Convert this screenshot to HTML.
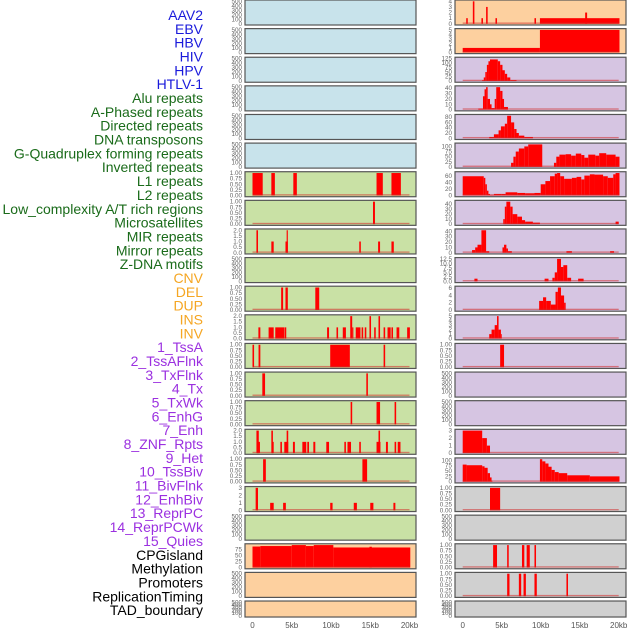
<!DOCTYPE html>
<html><head><meta charset="utf-8"><style>
html,body{margin:0;padding:0;background:#fff;}
svg{display:block;font-family:"Liberation Sans",sans-serif;}
</style></head><body>
<svg id="chart" width="630" height="630" viewBox="0 0 630 630" xmlns="http://www.w3.org/2000/svg"></svg>
<script>
const labels=["AAV2","EBV","HBV","HIV","HPV","HTLV-1","Alu repeats","A-Phased repeats","Directed repeats","DNA transposons","G-Quadruplex forming repeats","Inverted repeats","L1 repeats","L2 repeats","Low_complexity A/T rich regions","Microsatellites","MIR repeats","Mirror repeats","Z-DNA motifs","CNV","DEL","DUP","INS","INV","1_TssA","2_TssAFlnk","3_TxFlnk","4_Tx","5_TxWk","6_EnhG","7_Enh","8_ZNF_Rpts","9_Het","10_TssBiv","11_BivFlnk","12_EnhBiv","13_ReprPC","14_ReprPCWk","15_Quies","CPGisland","Methylation","Promoters","ReplicationTiming","TAD_boundary"];
const labelGroups=[6,13,5,15,5];
const groupColors=["#1a1adb","#1a6b1a","#f5a623","#9b30e0","#000"];
const xTicks=[0,5,10,15,20];
const xTickLabels=["0","5kb","10kb","15kb","20kb"];
const leftBg=["b","b","b","b","b","b","g","g","g","g","g","g","g","g","g","g","g","g","g","o","o","o"];
const rightBg=["o","o","p","p","p","p","p","p","p","p","p","p","p","p","p","p","p","x","x","x","x","x"];
const E=[0,100,200,300,400,500];
const T1=[0,0.25,0.5,0.75,1];
const T2=[0,0.5,1,1.5,2];
const leftTicks=[E,E,E,E,E,E,T1,T1,T2,E,T1,T2,T1,T1,T1,T2,T1,[0,1,2,3],E,[0,25,50,75],E,E];
const leftMax=[500,500,500,500,500,500,1,1,2,500,1,2,1,1,1,2,1,3,500,94,500,500];
const leftBars=[[],[],[],[],[],[],
[[0,1.3,1],[2.4,2.85,1],[5.2,5.65,1],[15.8,16.6,1],[17.7,18.9,1]],
[[15.35,15.6,1]],
[[0.5,0.7,2],[2.4,2.7,1],[4.2,4.5,1],[4.35,4.5,2],[13.6,13.8,1],[16.0,16.25,1],[17.7,18.0,1]],
[],
[[3.65,3.9,1],[4.2,4.5,1],[8.0,8.5,1]],
[[0.75,1.0,1],[2.05,2.7,1],[2.9,4.05,1],[4.1,4.3,1],[9.5,9.75,1],[10.7,10.9,1],[11.5,11.9,1],[12.45,12.7,2],[12.7,12.85,1],[13.15,13.75,1],[13.9,14.1,1],[14.3,14.5,1],[14.9,15.1,2],[15.5,15.7,1],[16.05,16.25,2],[16.7,16.9,1],[17.2,17.6,1],[17.7,17.9,1],[18.35,18.7,1],[19.7,20.05,1]],
[[0,0.2,1],[0.77,1.0,1],[9.9,12.4,1],[16.7,16.9,1]],
[[1.25,1.6,1],[14.5,14.7,1]],
[[12.5,12.7,1],[15.8,16.25,1],[18.1,18.3,1]],
[[0.5,0.8,2],[0.6,0.95,1],[2.4,2.6,2],[2.5,2.7,1],[3.55,3.75,1],[4.05,4.55,1],[4.35,4.55,2],[5.15,5.4,1],[6.35,6.85,1],[6.98,7.2,1],[7.75,8.0,1],[9.4,9.75,1],[11.7,11.9,1],[12.1,12.55,1],[13.6,13.8,1],[15.8,16.3,1],[16.05,16.25,2],[17.0,17.25,1],[18.1,18.3,1],[18.5,18.85,1]],
[[1.35,1.7,1],[14.0,14.6,1]],
[[0.4,0.7,3],[2.25,2.7,1],[3.9,4.25,1],[9.9,10.2,1],[12.9,13.3,1],[15.0,15.4,1],[17.95,18.2,1]],
[],
[[0,1.0,88],[1.0,5.0,90],[5.0,6.8,94],[6.8,7.8,90],[7.8,10.3,94],[10.3,20.1,84],[14.9,15.2,87]],
[],[]];
const rightTicks=[[0,1,2,3,4],[0,1,2,3,4,5],[0,25,50,75,100,125],[0,10,20,30,40],[0,20,40,60,80],[0,25,50,75,100],[0,20,40,60],[0,10,20,30,40],[0,10,20,30,40],[0,2.5,5,7.5,10,12.5],[0,2,4,6],[0,1,2,3,4,5],T1,E,E,[0,1,2,3],[0,25,50,75,100],T1,E,T1,T1,E];
const rightMax=[4,5,125,42,85,110,70,45,42,12.5,6.2,5,1,500,500,3,105,1,500,1,1,500];
const rightBars=[
[[0.45,0.65,1],[1.3,1.5,4],[2.4,2.6,1],[3.0,3.2,3],[4.2,4.4,1],[9.2,9.4,1],[9.9,20.1,1],[15.7,15.95,2]],
[[0,9.9,1],[9.9,20.1,5]],
[[2.5,2.7,5],[2.7,2.9,20],[2.9,3.1,50],[3.1,3.3,90],[3.3,3.5,110],[3.5,4.5,120],[4.5,4.8,110],[4.8,5.1,90],[5.1,5.4,60],[5.4,5.7,40],[5.7,6.1,20],[6.1,6.9,5]],
[[2.0,2.6,2],[2.6,2.8,25],[2.8,3.0,38],[3.0,3.2,42],[3.2,3.5,20],[3.5,3.7,10],[3.7,4.1,3],[4.1,4.3,20],[4.3,4.8,42],[4.8,5.1,35],[5.1,5.3,20],[5.3,5.8,5]],
[[3.4,4.0,5],[4.0,4.6,15],[4.6,4.9,30],[4.9,5.4,45],[5.4,5.7,55],[5.7,6.2,85],[6.2,6.6,60],[6.6,6.9,35],[6.9,7.2,20],[7.2,7.9,10],[7.9,9.0,5]],
[[6.2,6.5,20],[6.5,6.8,50],[6.8,7.2,75],[7.2,7.9,90],[7.9,8.4,100],[8.4,10.2,110],[11.7,12.0,20],[12.0,12.4,50],[12.4,13.2,60],[13.2,13.9,62],[13.9,14.5,55],[14.5,15.2,65],[15.2,15.6,58],[15.6,16.1,45],[16.1,17.0,60],[17.0,17.5,55],[17.5,18.4,67],[18.4,19.6,60],[19.6,20.1,50]],
[[0,2.7,60],[2.7,2.9,55],[2.9,3.1,35],[3.1,3.3,15],[3.3,3.5,5],[3.5,4.0,2],[4.0,5.0,5],[5.0,5.5,5],[5.5,7.0,10],[7.0,8.0,8],[8.0,9.2,7],[9.2,10.0,8],[10.0,10.6,35],[10.6,11.2,45],[11.2,11.8,60],[11.8,12.1,68],[12.1,12.5,70],[12.5,13.0,60],[13.0,14.0,52],[14.0,14.6,55],[14.6,15.2,58],[15.2,15.6,50],[15.6,16.3,62],[16.3,16.9,66],[16.9,18.0,65],[18.0,18.6,60],[18.6,19.3,55],[19.3,19.6,66],[19.6,20.1,70]],
[[5.2,5.4,10],[5.4,5.6,35],[5.6,6.1,45],[6.1,6.4,35],[6.4,7.0,20],[7.0,7.6,15],[7.6,8.0,8],[8.0,9.0,5],[9.0,9.9,3],[19.6,20.0,5]],
[[1.2,1.6,5],[1.6,1.9,10],[1.9,2.4,15],[2.4,3.0,42],[3.0,3.4,3],[5.1,5.3,10],[5.3,5.6,15],[5.6,5.8,8],[5.8,6.3,3],[13.3,14.0,3],[18.9,19.4,3]],
[[1.5,1.9,1.5],[10.5,11.0,1.5],[11.5,11.8,2],[11.8,12.1,5],[12.1,12.6,12.5],[12.6,12.9,8],[12.9,13.4,9],[13.4,13.9,2],[14.8,15.5,1.5]],
[[9.8,10.3,2.5],[10.3,10.7,3.5],[10.7,11.3,2.5],[11.3,11.9,1.5],[11.9,12.2,5],[12.2,12.6,6.2],[12.6,13.0,4],[13.0,13.2,2]],
[[3.4,3.7,1],[3.7,4.1,2],[4.1,4.4,3],[4.4,4.6,5],[4.6,4.9,2],[4.9,5.0,1]],
[[4.8,5.3,1]],
[],[],
[[0,2.5,3],[2.5,3.1,2],[3.1,3.5,1]],
[[0,0.5,80],[0.5,2.5,77],[2.5,2.8,72],[2.8,3.2,65],[3.2,3.5,40],[3.5,3.7,20],[3.7,3.8,5],[9.9,10.2,105],[10.2,10.6,95],[10.6,11.0,85],[11.0,11.4,70],[11.4,11.8,55],[11.8,12.3,45],[12.3,13.4,40],[13.4,16.3,30],[16.3,20.1,25]],
[[3.5,4.8,1]],
[],
[[3.9,4.4,1],[5.7,5.9,1],[7.6,7.9,1],[8.2,8.6,1],[9.2,9.4,1]],
[[5.7,6.0,1],[7.2,7.5,1],[7.8,8.1,1],[9.2,9.5,1],[13.3,13.5,1]],
[]];

const NS="http://www.w3.org/2000/svg";
const svg=document.getElementById('chart');
const bgColors={b:"#c8e3eb",g:"#c9e1a5",o:"#fdd09f",p:"#d6c5e2",x:"#d0d0d0"};
function mk(tag,attrs,parent){const e=document.createElementNS(NS,tag);for(const k in attrs)e.setAttribute(k,attrs[k]);(parent||svg).appendChild(e);return e;}
function decs(arr){let d=0;arr.forEach(v=>{const s=String(v);const i=s.indexOf('.');if(i>=0)d=Math.max(d,s.length-i-1);});return d;}

let gi=0,cnt=0;
labels.forEach((t,i)=>{
  while(cnt>=labelGroups[gi]){cnt-=labelGroups[gi];gi++;}
  const el=mk('text',{x:203,y:15+i*13.84+5,'text-anchor':'end','font-size':14,fill:groupColors[gi]});
  el.textContent=t;
  
  
  cnt++;
});

const cols=[{x:245,w:171,x0:252.5,x1:409.5,bg:leftBg,ticks:leftTicks,max:leftMax,bars:leftBars,name:'left'},
            {x:455,w:171,x0:462.7,x1:618.7,bg:rightBg,ticks:rightTicks,max:rightMax,bars:rightBars,name:'right'}];
cols.forEach(c=>{
  const xs=kb=>c.x0+(c.x1-c.x0)*kb/20;
  for(let r=0;r<22;r++){
    const top=r*28.62, h=(r===21?16:25);
    const g=mk('g',{});
    
    
    mk('rect',{x:c.x,y:top,width:c.w,height:h,fill:bgColors[c.bg[r]],stroke:'#555','stroke-width':1.2},g);
    const yb=top+h-1.2, yt=top+1.3, ymax=c.max[r];
    const ys=v=>yb-(yb-yt)*v/ymax;
    const d=decs(c.ticks[r]);
    c.ticks[r].forEach(t=>{
      const tx=mk('text',{x:c.x-3,y:ys(t)+2,'text-anchor':'end','font-size':6.3,fill:'#666'},g);
      tx.textContent=t.toFixed(d);
      
      
    });
    const bars=c.bars[r];
    if(bars.length){
      bars.forEach(b=>{
        const y=ys(b[2]);
        const br=mk('rect',{x:xs(b[0]),y:y,width:Math.max(0.8,xs(b[1])-xs(b[0])),height:yb-y,fill:'#ff0000'},g);
        
        
      });
      const bl=mk('rect',{x:xs(0),y:yb-1.3,width:xs(20)-xs(0),height:1.3,fill:'rgba(210,40,40,0.55)'},g);
      
      
    }
  }
  xTicks.forEach((t,i)=>{
    const tx=mk('text',{x:xs(t),y:628,'text-anchor':'middle','font-size':8,fill:'#555'});
    tx.textContent=xTickLabels[i];
    
    
  });
});
</script>
</body></html>
